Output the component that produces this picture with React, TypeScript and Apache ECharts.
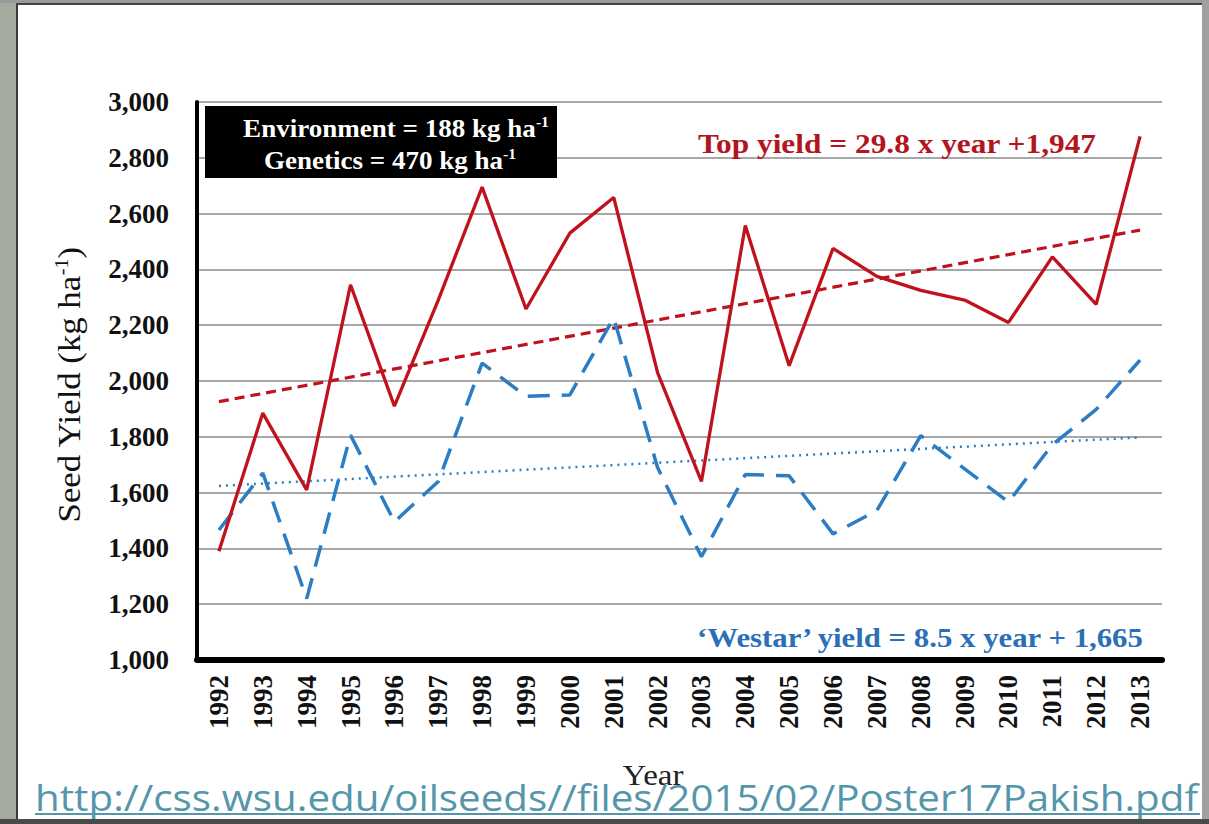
import React, { useEffect, useRef } from "react";
import * as echarts from "echarts";

const years = ["1992","1993","1994","1995","1996","1997","1998","1999","2000","2001","2002","2003","2004","2005","2006","2007","2008","2009","2010","2011","2012","2013"];
const topYield = [1390,1885,1610,2345,1910,2290,2695,2258,2530,2658,2030,1640,2557,2055,2475,2375,2325,2290,2210,2445,2275,2877];
const westarYield = [1466,1670,1220,1806,1495,1640,2064,1945,1950,2226,1690,1370,1665,1660,1452,1536,1804,1685,1566,1772,1898,2075];
const topTrend = [["1992",1926],["2013",2541]];
const westarTrend = [["1992",1624],["2013",1798]];
const yTicks = { min: 1000, max: 3000, step: 200 };

const RED = "#c0121c";
const BLUE = "#2d7dc4";
const SERIF = "'Liberation Serif', 'DejaVu Serif', serif";

export default function App() {
  const ref = useRef<HTMLDivElement>(null);
  useEffect(() => {
    if (!ref.current) return;
    const chart = echarts.init(ref.current, null, { renderer: "svg" });
    const boxRich = {
      a: { fontFamily: SERIF, fontSize: 26, fill: "#fff", fontWeight: "bold", lineHeight: 28 },
      s: { fontFamily: SERIF, fontSize: 15, fill: "#fff", fontWeight: "bold", verticalAlign: "top", lineHeight: 28 },
    };
    chart.setOption({
      animation: false,
      backgroundColor: "#ffffff",
      grid: { left: 197, right: 47, top: 102, bottom: 164, containLabel: false },
      xAxis: {
        type: "category",
        data: years,
        boundaryGap: true,
        axisLine: { show: true, lineStyle: { color: "#000", width: 6 } },
        axisTick: { show: false },
        axisLabel: {
          rotate: 90,
          margin: 15,
          color: "#111",
          fontFamily: SERIF,
          fontWeight: "bold",
          fontSize: 27,
          interval: 0,
        },
        splitLine: { show: false },
      },
      yAxis: {
        type: "value",
        min: yTicks.min,
        max: yTicks.max,
        interval: yTicks.step,
        axisLine: { show: true, lineStyle: { color: "#000", width: 4 } },
        axisTick: { show: false },
        axisLabel: {
          margin: 28,
          color: "#111",
          fontFamily: SERIF,
          fontWeight: "bold",
          fontSize: 27,
          formatter: (v: number) => v.toLocaleString("en-US"),
        },
        splitLine: { show: true, lineStyle: { color: "#8a8a8a", width: 1.5 } },
      },
      series: [
        {
          type: "line",
          data: topTrend,
          symbol: "none",
          lineStyle: { color: RED, width: 3.2, type: [10, 6] },
          z: 2,
        },
        {
          type: "line",
          data: westarTrend,
          symbol: "none",
          lineStyle: { color: BLUE, width: 2.5, type: [2, 5] },
          z: 2,
        },
        {
          type: "line",
          data: westarYield,
          symbol: "none",
          lineStyle: { color: BLUE, width: 3.5, type: [22, 12] },
          z: 3,
        },
        {
          type: "line",
          data: topYield,
          symbol: "none",
          lineStyle: { color: RED, width: 3.3 },
          z: 4,
        },
      ],
      graphic: [
        { type: "rect", shape: { x: 0, y: 0, width: 16, height: 824 }, style: { fill: "#a4aa9e" }, z: 100 },
        { type: "rect", shape: { x: 16, y: 0, width: 2, height: 824 }, style: { fill: "#3a3a3a" }, z: 100 },
        { type: "rect", shape: { x: 0, y: 0, width: 1209, height: 3 }, style: { fill: "#9a9a9a" }, z: 100 },
        { type: "rect", shape: { x: 16, y: 3, width: 1190, height: 2 }, style: { fill: "#444" }, z: 100 },
        { type: "rect", shape: { x: 1202, y: 0, width: 7, height: 824 }, style: { fill: "#a0a0a0" }, z: 100 },
        { type: "rect", shape: { x: 0, y: 819, width: 1209, height: 5 }, style: { fill: "#4a4a4a" }, z: 100 },
        { type: "rect", shape: { x: 205, y: 106, width: 352, height: 72 }, style: { fill: "#000" }, z: 50 },
        {
          type: "text", x: 396, y: 128, z: 51, scaleX: 1.04,
          style: { text: "{a|Environment = 188 kg ha}{s|-1}", align: "center", verticalAlign: "middle", rich: boxRich },
        },
        {
          type: "text", x: 390, y: 160, z: 51, scaleX: 1.04,
          style: { text: "{a|Genetics = 470 kg ha}{s|-1}", align: "center", verticalAlign: "middle", rich: boxRich },
        },
        {
          type: "text", x: 70, y: 385, z: 51, rotation: Math.PI / 2, scaleX: 1.12,
          style: {
            text: "{a|Seed Yield (kg ha}{s|-1}{a|)}",
            align: "center", verticalAlign: "middle",
            rich: {
              a: { fontFamily: SERIF, fontSize: 31, fill: "#111", lineHeight: 34 },
              s: { fontFamily: SERIF, fontSize: 18, fill: "#111", verticalAlign: "top", lineHeight: 34 },
            },
          },
        },
        {
          type: "text", x: 897, y: 144, z: 51, scaleX: 1.12,
          style: {
            text: "Top yield = 29.8 x year +1,947",
            align: "center", verticalAlign: "middle",
            fontFamily: SERIF, fontSize: 28, fontWeight: "bold", fill: "#b3151e",
          },
        },
        {
          type: "text", x: 920, y: 637, z: 51, scaleX: 1.1,
          style: {
            text: "\u2018Westar\u2019 yield = 8.5 x year + 1,665",
            align: "center", verticalAlign: "middle",
            fontFamily: SERIF, fontSize: 28, fontWeight: "bold", fill: "#2b70b6",
          },
        },
        {
          type: "text", x: 653, y: 775, z: 52, scaleX: 1.1,
          style: {
            text: "Year", align: "center", verticalAlign: "middle",
            fontFamily: SERIF, fontSize: 30, fill: "#222",
          },
        },
        {
          type: "text", x: 35, y: 797, z: 53, scaleX: 1.12,
          style: {
            text: "http://css.wsu.edu/oilseeds//files/2015/02/Poster17Pakish.pdf",
            align: "left", verticalAlign: "middle",
            fontFamily: "'Open Sans', 'Noto Sans', sans-serif", fontSize: 36, fill: "#5596aa",
          },
        },
        { type: "rect", shape: { x: 35, y: 813, width: 1165, height: 2 }, style: { fill: "#5596aa" }, z: 53 },
      ],
    });
    return () => chart.dispose();
  }, []);
  return <div ref={ref} style={{ position: "fixed", left: 0, top: 0, width: 1209, height: 824 }} />;
}
